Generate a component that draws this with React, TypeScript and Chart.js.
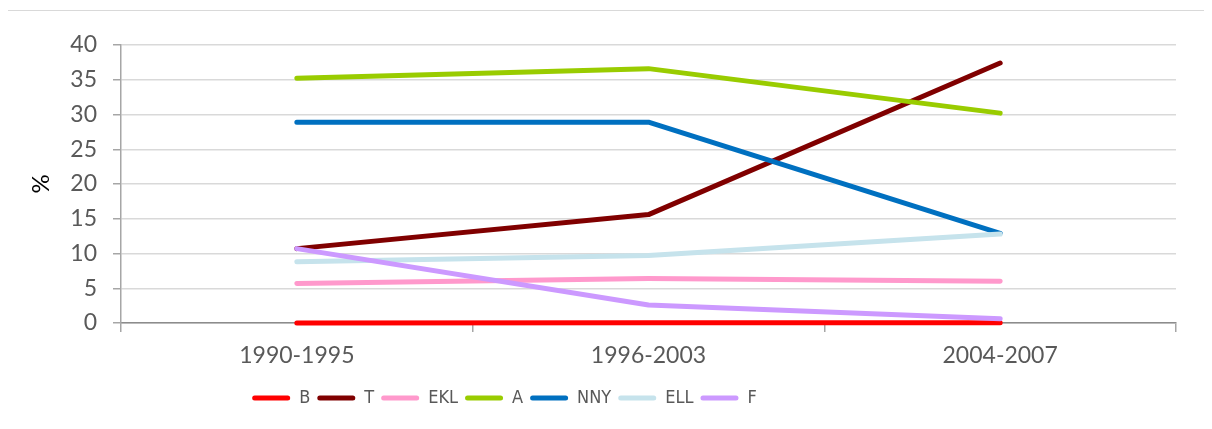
import React, { useEffect, useRef } from "react";
import { Chart, registerables } from "chart.js";

Chart.register(...registerables);

const categories = ["1990-1995", "1996-2003", "2004-2007"];
const seriesNames = ["B", "T", "EKL", "A", "NNY", "ELL", "F"];
const B = [0.0, 0.05, 0.05];
const T = [10.7, 15.6, 37.4];
const EKL = [5.7, 6.4, 6.0];
const A = [35.2, 36.6, 30.2];
const NNY = [28.9, 28.9, 12.9];
const ELL = [8.8, 9.7, 12.8];
const F = [10.7, 2.6, 0.6];
const seriesValues = [B, T, EKL, A, NNY, ELL, F];
const seriesColors = ["#FF0000", "#800000", "#FF99CC", "#99CC00", "#0070C0", "#C6E3EC", "#CC99FF"];
const yTicks = [0, 5, 10, 15, 20, 25, 30, 35, 40];

const FONT = "Lato, 'Open Sans', sans-serif";
const LEGEND_FONT = "'Liberation Sans Narrow', 'DejaVu Sans Condensed', Lato, sans-serif";

export default function App() {
  const ref = useRef<HTMLCanvasElement | null>(null);

  useEffect(() => {
    if (!ref.current) return;
    const legendShift = {
      id: "legendShift",
      afterLayout(chart: any) {
        const lg = chart.legend;
        if (lg) {
          lg.left -= 98;
          lg.right -= 98;
          lg.top += 3;
          lg.bottom += 3;
        }
      },
    };
    const chart = new Chart(ref.current, {
      type: "line",
      data: {
        labels: categories,
        datasets: seriesNames.map((name, i) => ({
          label: name,
          data: seriesValues[i],
          borderColor: seriesColors[i],
          backgroundColor: seriesColors[i],
          borderWidth: 5,
          borderCapStyle: "round",
          borderJoinStyle: "round",
          pointRadius: 0,
          tension: 0,
          clip: 10,
          order: -i,
        })),
      },
      options: {
        animation: false,
        responsive: false,
        maintainAspectRatio: false,
        layout: { padding: { left: 21, right: 28, top: 34, bottom: 10 } },
        plugins: {
          tooltip: { enabled: false },
          legend: {
            position: "bottom",
            align: "center",
            labels: {
              boxWidth: 38,
              boxHeight: 5,
              padding: 7,
              color: "#595959",
              font: { family: LEGEND_FONT, size: 18 },
              sort: (a: any, b: any) => a.datasetIndex - b.datasetIndex,
              generateLabels: (c: any) =>
                c.data.datasets.map((ds: any, i: number) => ({
                  text: ds.label,
                  fillStyle: ds.borderColor,
                  strokeStyle: ds.borderColor,
                  lineWidth: 0,
                  fontColor: "#595959",
                  borderRadius: 2.5,
                  hidden: false,
                  datasetIndex: i,
                })),
            },
          },
        },
        scales: {
          x: {
            type: "category",
            offset: true,
            afterFit: (s: any) => {
              s.height = 56;
            },
            grid: {
              offset: true,
              drawOnChartArea: false,
              drawTicks: true,
              tickLength: 9,
              color: "#A6A6A6",
              lineWidth: 1.5,
            },
            border: { display: true, color: "#8C8C8C", width: 1.5 },
            ticks: {
              color: "#595959",
              font: { family: FONT, size: 23 },
              padding: 10,
              maxRotation: 0,
            },
          },
          y: {
            min: 0,
            max: 40,
            afterFit: (s: any) => {
              s.width = 92;
            },
            afterBuildTicks: (s: any) => {
              s.ticks = yTicks.map((v) => ({ value: v }));
            },
            grid: {
              color: "#D9D9D9",
              lineWidth: 1.5,
              tickLength: 8,
              tickColor: "#A6A6A6",
            },
            border: { display: true, color: "#A6A6A6", width: 1.5 },
            ticks: {
              color: "#595959",
              font: { family: FONT, size: 23 },
              padding: 16,
            },
            title: {
              display: true,
              text: "%",
              color: "#000000",
              font: { family: FONT, size: 24, lineHeight: 1 },
              padding: 0,
            },
          },
        },
      },
      plugins: [legendShift],
    } as any);
    return () => chart.destroy();
  }, []);

  return (
    <div
      style={{
        position: "relative",
        top: 2,
        left: -1,
        width: 1196,
        height: 413,
        borderLeft: "1px solid #D9D9D9",
        borderTop: "1px solid #D9D9D9",
      }}
    >
      <canvas ref={ref} width={1196} height={413} style={{ display: "block" }} />
    </div>
  );
}
